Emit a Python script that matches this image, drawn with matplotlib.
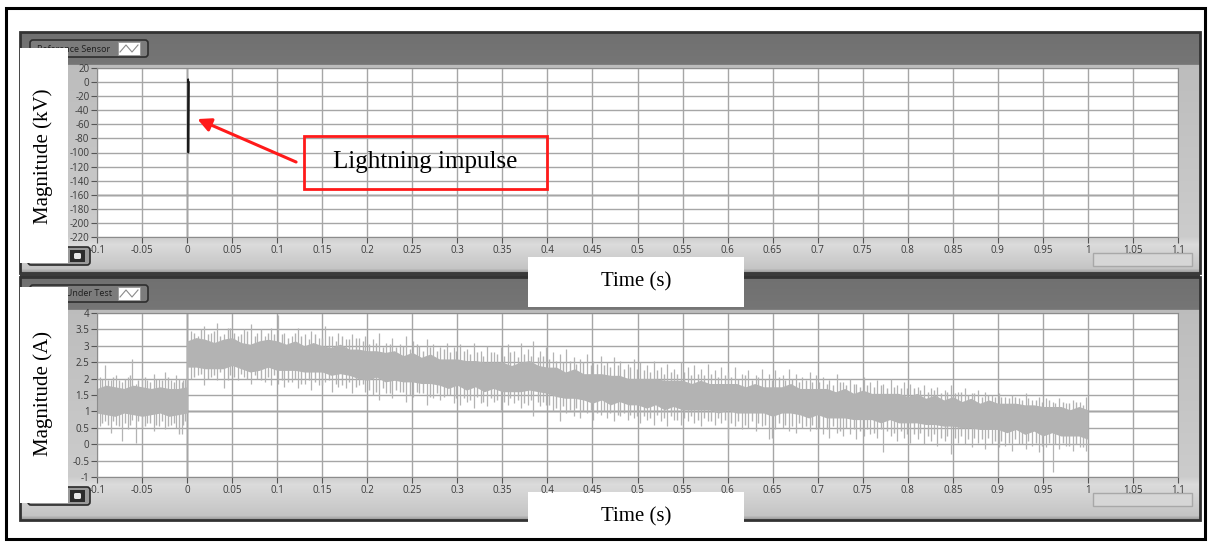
import numpy as np
import matplotlib
matplotlib.use("Agg")
import matplotlib.pyplot as plt
from matplotlib.patches import Rectangle, FancyBboxPatch, FancyArrowPatch

# ---------------- data ----------------
x_ticks = [-0.1, -0.05, 0, 0.05, 0.1, 0.15, 0.2, 0.25, 0.3, 0.35, 0.4, 0.45, 0.5,
           0.55, 0.6, 0.65, 0.7, 0.75, 0.8, 0.85, 0.9, 0.95, 1, 1.05, 1.1]
x_labels = ["-0.1", "-0.05", "0", "0.05", "0.1", "0.15", "0.2", "0.25", "0.3", "0.35",
            "0.4", "0.45", "0.5", "0.55", "0.6", "0.65", "0.7", "0.75", "0.8", "0.85",
            "0.9", "0.95", "1", "1.05", "1.1"]
kv_ticks = [20, 0, -20, -40, -60, -80, -100, -120, -140, -160, -180, -200, -220]
a_ticks = [4, 3.5, 3, 2.5, 2, 1.5, 1, 0.5, 0, -0.5, -1]
a_labels = ["4", "3.5", "3", "2.5", "2", "1.5", "1", "0.5", "0", "-0.5", "-1"]

# reference sensor: lightning impulse (kV)
imp_t = [0.0008, 0.0012, 0.0014, 0.0020]
imp_v = [0, 4, -100, 0]

# current under test: dense noise band (A)
pre_t = [-0.10, -0.09, -0.08, -0.07, -0.06, -0.05, -0.04, -0.03, -0.02, -0.01, 0.0]
pre_hi = [1.70, 1.80, 1.75, 1.70, 1.80, 1.75, 1.70, 1.75, 1.70, 1.70, 1.75]
pre_lo = [0.95, 0.90, 0.85, 0.95, 0.90, 0.85, 0.90, 0.95, 0.85, 0.90, 0.95]

post_t = [round(0.01 * i, 2) for i in range(101)]
post_hi = [3.15, 3.25, 3.20, 3.10, 3.20, 3.25, 3.10, 3.05, 3.15, 3.20,
           3.15, 3.05, 3.15, 3.00, 3.10, 3.00, 2.95, 3.05, 2.90, 2.90,
           2.85, 2.85, 2.80, 2.85, 2.70, 2.80, 2.65, 2.75, 2.60, 2.60,
           2.60, 2.55, 2.55, 2.50, 2.50, 2.50, 2.40, 2.50, 2.55, 2.40,
           2.35, 2.35, 2.20, 2.30, 2.15, 2.15, 2.15, 2.10, 2.10, 2.00,
           2.00, 2.00, 2.00, 1.95, 1.95, 1.95, 1.85, 1.95, 1.85, 1.85,
           1.85, 1.85, 1.75, 1.85, 1.75, 1.75, 1.75, 1.85, 1.70, 1.70,
           1.70, 1.70, 1.60, 1.70, 1.55, 1.65, 1.55, 1.55, 1.55, 1.55,
           1.45, 1.55, 1.40, 1.50, 1.35, 1.45, 1.30, 1.40, 1.25, 1.35,
           1.25, 1.25, 1.25, 1.20, 1.20, 1.15, 1.15, 1.15, 1.05, 1.15, 1.05]
post_lo = [2.35, 2.35, 2.30, 2.30, 2.30, 2.40, 2.30, 2.20, 2.25, 2.35,
           2.25, 2.25, 2.25, 2.20, 2.20, 2.20, 2.10, 2.15, 2.10, 2.00,
           1.95, 2.05, 1.90, 1.95, 1.90, 1.90, 1.85, 1.85, 1.80, 1.70,
           1.80, 1.65, 1.75, 1.60, 1.70, 1.60, 1.60, 1.60, 1.65, 1.60,
           1.55, 1.45, 1.40, 1.40, 1.35, 1.25, 1.35, 1.20, 1.30, 1.20,
           1.20, 1.10, 1.20, 1.05, 1.15, 1.05, 1.05, 1.05, 1.05, 0.95,
           1.05, 0.95, 0.95, 0.95, 0.95, 0.85, 0.95, 0.95, 0.90, 0.80,
           0.90, 0.80, 0.80, 0.80, 0.75, 0.75, 0.75, 0.65, 0.75, 0.65,
           0.65, 0.65, 0.60, 0.60, 0.55, 0.55, 0.50, 0.50, 0.45, 0.45,
           0.45, 0.35, 0.45, 0.30, 0.40, 0.25, 0.35, 0.25, 0.25, 0.25, 0.15]

# large noise excursions (time, low end, high end)
spk_t = [-0.097, -0.091, -0.085, -0.079, -0.072, -0.066, -0.061, -0.057, -0.050,
         -0.044, -0.037, -0.031, -0.024, -0.018, -0.012, -0.006, -0.002,
         0.004, 0.012, 0.019, 0.027, 0.033, 0.041, 0.048, 0.056, 0.063, 0.071, 0.078, 0.086, 0.093,
         0.101, 0.108, 0.116, 0.123, 0.131, 0.138, 0.146, 0.153, 0.161, 0.168, 0.176, 0.183, 0.191, 0.198,
         0.206, 0.213, 0.221, 0.228, 0.236, 0.243, 0.251, 0.258, 0.266, 0.273, 0.281, 0.288, 0.296,
         0.303, 0.311, 0.318, 0.326, 0.333, 0.341, 0.348, 0.356, 0.363, 0.371, 0.378, 0.384, 0.392, 0.398,
         0.406, 0.414, 0.421, 0.429, 0.436, 0.444, 0.451, 0.459, 0.466, 0.474, 0.481, 0.489, 0.496,
         0.503, 0.511, 0.518, 0.526, 0.533, 0.541, 0.548, 0.556, 0.563, 0.571, 0.578, 0.586, 0.593,
         0.601, 0.608, 0.616, 0.623, 0.631, 0.638, 0.646, 0.653, 0.661, 0.668, 0.676, 0.683, 0.691, 0.698,
         0.706, 0.713, 0.721, 0.728, 0.736, 0.743, 0.751, 0.758, 0.766, 0.773, 0.781, 0.788, 0.796,
         0.803, 0.811, 0.818, 0.826, 0.833, 0.841, 0.848, 0.856, 0.863, 0.871, 0.878, 0.886, 0.893,
         0.901, 0.908, 0.916, 0.923, 0.931, 0.938, 0.946, 0.953, 0.961, 0.968, 0.976, 0.983, 0.991, 0.998]
spk_hi = [2.05, 2.40, 1.95, 2.10, 1.90, 2.05, 2.60, 1.85, 2.05, 1.95, 2.15, 2.00, 2.20, 1.95, 2.10, 1.90, 2.00,
          3.45, 3.30, 3.60, 3.40, 3.70, 3.35, 3.55, 3.30, 3.50, 3.65, 3.40, 3.30, 3.55,
          3.95, 3.40, 3.30, 3.55, 3.35, 3.45, 3.25, 3.60, 3.30, 3.40, 3.20, 3.35, 3.25, 3.30,
          3.20, 3.40, 3.10, 3.25, 3.05, 3.30, 3.15, 3.00, 3.20, 3.05, 2.95, 3.10, 2.95,
          3.05, 2.90, 3.10, 2.85, 3.00, 2.80, 2.95, 3.05, 2.85, 3.10, 2.90, 3.15, 2.85, 2.95,
          2.80, 2.75, 2.90, 2.65, 2.60, 2.75, 2.55, 2.70, 2.50, 2.65, 2.55, 2.45, 2.60,
          2.50, 2.40, 2.55, 2.35, 2.45, 2.30, 2.50, 2.35, 2.40, 2.30, 2.45, 2.25, 2.35,
          2.20, 2.35, 2.15, 2.25, 2.10, 2.30, 2.15, 2.25, 2.10, 2.30, 2.15, 2.05, 2.20, 2.10,
          2.05, 1.95, 2.15, 1.90, 2.00, 1.85, 2.05, 1.90, 1.95, 1.85, 2.00, 1.80, 1.90,
          1.85, 1.75, 1.80, 1.70, 1.75, 1.65, 1.80, 1.60, 1.70, 1.55, 1.65, 1.60, 1.50,
          1.55, 1.45, 1.50, 1.40, 1.55, 1.35, 1.45, 1.40, 1.30, 1.40, 1.25, 1.35, 1.30, 1.45]
spk_lo = [0.55, 0.70, 0.35, 0.60, 0.10, 0.45, 0.75, 0.05, 0.50, 0.65, 0.40, 0.55, 0.45, 0.60, 0.50, 0.30, 0.70,
          2.00, 2.10, 1.80, 2.05, 1.95, 1.70, 2.10, 1.95, 2.05, 1.85, 2.00, 1.90, 1.80,
          1.85, 1.75, 1.90, 1.70, 1.85, 1.65, 1.80, 1.90, 1.60, 1.75, 1.70, 1.55, 1.80, 1.60,
          1.50, 1.35, 1.55, 1.40, 1.60, 1.30, 1.45, 1.55, 1.20, 1.40, 1.35, 1.50, 1.25,
          1.20, 1.30, 1.10, 1.25, 1.15, 1.30, 1.05, 1.20, 1.25, 1.10, 1.20, 0.85, 1.15, 1.20,
          1.00, 0.70, 0.95, 0.85, 0.80, 0.95, 0.75, 0.90, 0.80, 0.70, 0.85, 0.75, 0.80,
          0.65, 0.75, 0.60, 0.70, 0.55, 0.75, 0.60, 0.70, 0.65, 0.55, 0.70, 0.60, 0.65,
          0.15, 0.55, 0.45, 0.50, 0.40, 0.55, 0.15, 0.45, 0.50, 0.40, 0.35, 0.50, 0.40, 0.45,
          0.30, 0.20, 0.35, 0.25, 0.30, 0.15, 0.25, 0.30, 0.20, -0.25, 0.25, 0.10, 0.20,
          0.05, 0.15, 0.00, 0.10, -0.05, 0.10, -0.30, 0.05, 0.00, -0.10, 0.05, -0.15, 0.00,
          -0.10, -0.05, -0.20, 0.00, -0.15, -0.05, -0.25, -0.10, -0.85, -0.15, -0.05, -0.20, -0.10, -0.20]

# smaller noise excursions filling the fuzzy edge of the band
fz_t = [-0.094, -0.088, -0.082, -0.076, -0.069, -0.063, -0.054, -0.047, -0.041, -0.034, -0.028,
        -0.021, -0.015, -0.009, -0.004,
        0.008, 0.016, 0.023, 0.030, 0.037, 0.045, 0.052, 0.060, 0.067, 0.075, 0.082, 0.090, 0.097,
        0.105, 0.112, 0.120, 0.127, 0.135, 0.142, 0.150, 0.157, 0.165, 0.172, 0.180, 0.187, 0.195,
        0.202, 0.210, 0.217, 0.225, 0.232, 0.240, 0.247, 0.255, 0.262, 0.270, 0.277, 0.285, 0.292, 0.299,
        0.307, 0.314, 0.322, 0.329, 0.337, 0.344, 0.352, 0.359, 0.367, 0.374, 0.382, 0.389, 0.395,
        0.402, 0.410, 0.417, 0.425, 0.432, 0.440, 0.448, 0.455, 0.463, 0.470, 0.478, 0.485, 0.492, 0.499,
        0.507, 0.514, 0.522, 0.529, 0.537, 0.544, 0.552, 0.559, 0.567, 0.574, 0.582, 0.589, 0.597,
        0.604, 0.612, 0.619, 0.627, 0.634, 0.642, 0.649, 0.657, 0.664, 0.672, 0.679, 0.687, 0.694,
        0.702, 0.710, 0.717, 0.725, 0.732, 0.740, 0.747, 0.755, 0.762, 0.770, 0.777, 0.785, 0.792, 0.799,
        0.807, 0.814, 0.822, 0.829, 0.837, 0.844, 0.852, 0.859, 0.867, 0.874, 0.882, 0.889, 0.897,
        0.904, 0.912, 0.919, 0.927, 0.934, 0.942, 0.949, 0.957, 0.964, 0.972, 0.979, 0.987, 0.994]
fz_hi = [2.00, 1.95, 2.05, 1.95, 2.00, 2.10, 1.95, 2.05, 1.90, 2.00, 1.95, 2.05, 1.90, 2.00, 1.95,
         3.40, 3.50, 3.35, 3.45, 3.30, 3.55, 3.40, 3.35, 3.45, 3.30, 3.50, 3.40, 3.35,
         3.35, 3.25, 3.40, 3.30, 3.20, 3.35, 3.25, 3.30, 3.15, 3.30, 3.20, 3.25, 3.15,
         3.05, 3.10, 2.95, 3.05, 2.95, 3.00, 2.90, 3.05, 2.85, 2.95, 2.85, 2.90, 2.80, 2.85,
         2.85, 2.75, 2.80, 2.70, 2.80, 2.75, 2.70, 2.80, 2.65, 2.75, 2.70, 2.65, 2.70,
         2.60, 2.55, 2.50, 2.55, 2.45, 2.50, 2.40, 2.45, 2.40, 2.35, 2.40, 2.30, 2.35, 2.30,
         2.25, 2.20, 2.25, 2.15, 2.20, 2.15, 2.20, 2.10, 2.15, 2.10, 2.15, 2.05, 2.10,
         2.05, 2.00, 2.10, 1.95, 2.05, 2.00, 1.95, 2.05, 1.95, 2.00, 1.90, 1.95, 1.90,
         1.90, 1.85, 1.80, 1.90, 1.80, 1.85, 1.75, 1.80, 1.75, 1.80, 1.70, 1.75, 1.70, 1.70,
         1.70, 1.65, 1.60, 1.65, 1.55, 1.60, 1.55, 1.60, 1.50, 1.55, 1.45, 1.50, 1.45,
         1.45, 1.40, 1.45, 1.35, 1.40, 1.35, 1.30, 1.35, 1.25, 1.30, 1.25, 1.30, 1.20]
fz_lo = [0.65, 0.60, 0.70, 0.55, 0.65, 0.60, 0.70, 0.55, 0.65, 0.60, 0.70, 0.55, 0.65, 0.30, 0.60,
         2.05, 2.15, 2.00, 2.10, 2.20, 1.95, 2.05, 2.15, 2.00, 2.10, 1.95, 2.05, 2.10,
         1.95, 1.90, 2.00, 1.85, 1.95, 1.90, 1.80, 1.95, 1.85, 1.80, 1.90, 1.75, 1.85,
         1.65, 1.60, 1.70, 1.55, 1.65, 1.60, 1.50, 1.60, 1.55, 1.45, 1.55, 1.45, 1.50, 1.40,
         1.40, 1.35, 1.45, 1.30, 1.40, 1.35, 1.30, 1.40, 1.35, 1.25, 1.35, 1.30, 1.30,
         1.20, 1.10, 1.15, 1.05, 1.10, 1.00, 1.05, 0.95, 1.00, 0.95, 0.90, 0.95, 0.90, 0.85,
         0.85, 0.80, 0.90, 0.80, 0.85, 0.75, 0.80, 0.85, 0.75, 0.80, 0.70, 0.80, 0.75,
         0.65, 0.70, 0.60, 0.70, 0.65, 0.60, 0.20, 0.65, 0.60, 0.55, 0.65, 0.55, 0.60,
         0.50, 0.45, 0.55, 0.40, 0.50, 0.45, 0.40, 0.45, 0.35, 0.45, 0.40, 0.35, 0.40, 0.30,
         0.30, 0.35, 0.25, 0.30, 0.20, 0.25, 0.20, 0.25, 0.15, 0.20, 0.15, 0.20, 0.10,
         0.10, 0.05, 0.15, 0.00, 0.10, 0.05, -0.05, 0.05, 0.00, 0.05, -0.05, 0.00, -0.10]

# ---------------- figure ----------------
W, H = 1211, 544
fig = plt.figure(figsize=(W / 100, H / 100), dpi=100)
fig.patch.set_facecolor("white")
bg = fig.add_axes([0, 0, 1, 1])
bg.set_xlim(0, W)
bg.set_ylim(H, 0)
bg.axis("off")


def fax(x0, y0, x1, y1):
    return [x0 / W, 1 - y1 / H, (x1 - x0) / W, (y1 - y0) / H]


# outer frame
bg.add_patch(Rectangle((6, 7.5), 1199, 531, fill=False, ec="black", lw=2.2, zorder=1))

PX0, PX1 = 97, 1178


def panel(y0, y1, ptop, pbot, legend_text, legend_x):
    rows = np.arange(y0, y1 + 1)
    vals = np.interp(rows, [y0, ptop - 4, ptop - 3, pbot, pbot + 8, y1 - 4, y1],
                     [0.44, 0.46, 0.74, 0.80, 0.86, 0.77, 0.60])
    img = np.repeat(vals[:, None], 2, axis=1)
    img = np.stack([img, img, img], axis=-1)
    bg.imshow(img, extent=(20, 1200, y1, y0), aspect="auto", zorder=2,
              interpolation="bilinear")
    bg.add_patch(Rectangle((20, y0), 1180, y1 - y0, fill=False, ec="#333333", lw=2, zorder=3))
    # legend button
    bg.add_patch(FancyBboxPatch((30, y0 + 8), 118, 17, boxstyle="round,pad=0,rounding_size=3",
                                fc="#7c7c7c", ec="#2e2e2e", lw=1.2, zorder=3))
    bg.text(legend_x, y0 + 17, legend_text, fontsize=6.5, family="Open Sans",
            color="#1e1e1e", va="center", ha="left", zorder=4)
    bg.add_patch(Rectangle((118, y0 + 10), 22, 13, fc="white", ec="#9a9a9a", lw=0.6, zorder=4))
    bg.plot([120, 126, 132, 138], [y0 + 20, y0 + 13, y0 + 20, y0 + 13], color="#8a8a8a", lw=0.8, zorder=5)
    # bottom-left tool button (hand tool)
    bg.add_patch(FancyBboxPatch((28, pbot + 10), 62, 18, boxstyle="round,pad=0,rounding_size=3",
                                fc="#9a9a9a", ec="#2a2a2a", lw=1.2, zorder=3))
    bg.add_patch(Rectangle((70, pbot + 13), 15, 12, fc="#2c2c2c", ec="none", zorder=4))
    bg.add_patch(FancyBboxPatch((74, pbot + 16), 7, 6, boxstyle="round,pad=0,rounding_size=1.5",
                                fc="#e8e8e8", ec="none", zorder=5))
    # bottom-right indicator
    bg.add_patch(Rectangle((1093, pbot + 16), 99, 13, fc="#d6d6d6", ec="#a8a8a8", lw=1, zorder=3))


panel(32, 273, 68, 237, "Reference Sensor", 37)
bg.add_patch(Rectangle((20, 273), 1180, 4, fc="#3a3a3a", ec="none", zorder=3))
panel(277, 520, 313, 477, "Device Under Test", 36)

# label boxes
serif = "Liberation Serif"
for (x0, y0, x1, y1) in [(20, 48, 68, 263), (20, 287, 68, 503), (528, 257, 744, 307), (528, 492, 744, 537)]:
    bg.add_patch(Rectangle((x0, y0), x1 - x0, y1 - y0, fc="white", ec="none", zorder=6))
bg.text(43, 156, "Magnitude (kV)", rotation=90, fontsize=15, family=serif, ha="center",
        va="center", zorder=7)
bg.text(43, 393, "Magnitude (A)", rotation=90, fontsize=15, family=serif, ha="center",
        va="center", zorder=7)
bg.text(636, 282, "Time (s)", fontsize=15, family=serif, ha="center", va="center", zorder=7)
bg.text(636, 517, "Time (s)", fontsize=15, family=serif, ha="center", va="center", zorder=7)


def style_axes(ax, yt, ylab, dark_x, dark_y):
    ax.set_facecolor("white")
    ax.set_xlim(-0.1, 1.1)
    ax.set_xticks(x_ticks)
    ax.set_xticklabels(x_labels)
    ax.set_yticks(yt)
    ax.set_yticklabels(ylab)
    ax.tick_params(direction="out", length=4, width=0.8, color="#555555", labelsize=7,
                   labelcolor="#3a3a3a", pad=1.5)
    for lab in ax.get_xticklabels() + ax.get_yticklabels():
        lab.set_family("Open Sans")
    ax.grid(True, color="#a6a6a6", lw=1.0)
    ax.set_axisbelow(True)
    ax.axvline(dark_x, color="#4a4a4a", lw=1.0, zorder=0.5)
    ax.axhline(dark_y, color="#4a4a4a", lw=1.0, zorder=0.5)
    for s in ax.spines.values():
        s.set_color("#8c8c8c")
        s.set_linewidth(0.8)


# upper chart
ax1 = fig.add_axes(fax(PX0, 68, PX1, 237))
ax1.set_ylim(-220, 20)
style_axes(ax1, kv_ticks, [str(v) for v in kv_ticks], 0, -160)
ax1.plot(imp_t, imp_v, color="#1a1a1a", lw=1.3, zorder=3)
ax1.add_patch(Rectangle((0.130, -151.5), 0.2695, 74.5, fill=False, ec="#ff1a1a", lw=2.0, zorder=4))
ax1.text(0.2648, -114, "Lightning impulse", fontsize=18, family=serif, ha="center",
         va="center", zorder=5)
ax1.add_patch(FancyArrowPatch((0.121, -113.5), (0.0115, -52.5), arrowstyle="-|>",
                              mutation_scale=20, color="#ff1a1a", lw=2.2, zorder=5,
                              shrinkA=0, shrinkB=0))

# lower chart
ax2 = fig.add_axes(fax(PX0, 313, PX1, 477))
ax2.set_ylim(-1, 4)
style_axes(ax2, a_ticks, a_labels, 0, 1)
noise = "#b3b3b3"
ax2.fill_between(pre_t, pre_lo, pre_hi, color=noise, lw=0, zorder=2)
ax2.fill_between(post_t, post_lo, post_hi, color=noise, lw=0, zorder=2)
ax2.vlines(fz_t, fz_lo, fz_hi, color=noise, lw=1.0, zorder=2)
ax2.vlines(spk_t, spk_lo, spk_hi, color=noise, lw=0.9, zorder=2)
ax2.vlines([0.0], [pre_lo[-1]], [post_hi[0]], color=noise, lw=1.0, zorder=2)

fig.savefig("out.png", dpi=100, facecolor="white")
